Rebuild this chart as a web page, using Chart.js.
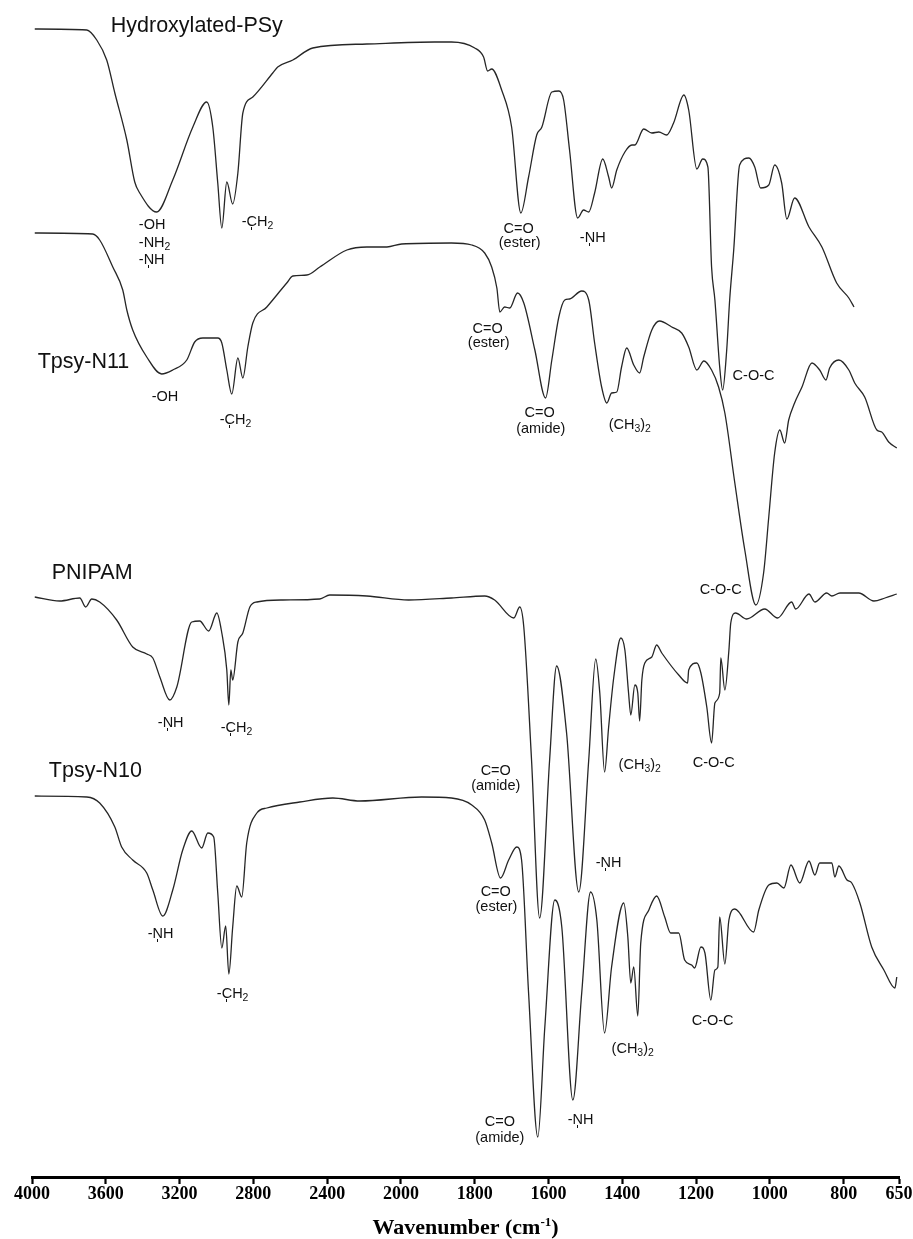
<!DOCTYPE html>
<html>
<head>
<meta charset="utf-8">
<title>FTIR spectra</title>
<script src="https://cdn.jsdelivr.net/npm/chart.js@4.4.1/dist/chart.umd.min.js"></script>
<style>
  html, body { margin: 0; padding: 0; background: #fff; }
  #wrap { width: 913px; height: 1239px; }
</style>
</head>
<body>
<div id="wrap"><canvas id="ftir" width="913" height="1239"></canvas></div>
<script>
// Wavenumber axis: above 2000 cm-1 the scale is compressed 2:1
const BREAK_WN = 2000;
const TICK_WN = [4000, 3600, 3200, 2800, 2400, 2000, 1800, 1600, 1400, 1200, 1000, 800, 650];

// Spectra: wavenumber (cm-1) and stacked transmittance (a.u.)
const hydroxylatedPSyWn = [3985,3703,3649,3595,3551,3486,3443,3416,3324,3237,3128,3053,3020,2993,2971,2944,2912,2884,2857,2803,2695,2668,2586,2478,2185,1909,1863,1800,1776,1765,1754,1727,1700,1675,1654,1632,1618,1591,1572,1559,1543,1521,1505,1491,1475,1453,1437,1429,1415,1393,1374,1366,1342,1320,1301,1280,1261,1233,1220,1198,1182,1168,1158,1149,1136,1128,1117,1109,1098,1082,1057,1041,1025,1003,987,968,954,933,894,859,819,786,772];
const hydroxylatedPSyT  = [1148,1147,1137,1117,1084,1037,995,984,965,997,1050,1075,1050,994,949,995,973,1004,1064,1080,1104,1110,1117,1129,1133,1135,1135,1129,1120,1106,1108,1087,1050,964,1000,1042,1050,1085,1086,1077,1027,959,967,965,984,1018,1000,989,1007,1025,1032,1032,1048,1044,1045,1042,1054,1082,1067,1008,1018,1010,910,877,810,787,827,877,927,1012,1019,1010,989,992,1012,994,958,979,950,930,894,879,870];

const tpsyN11Wn = [3985,3671,3633,3562,3508,3486,3454,3378,3297,3237,3161,3118,3074,2993,2971,2944,2917,2884,2857,2830,2803,2727,2619,2586,2510,2440,2293,2185,2076,1998,1863,1808,1773,1754,1740,1732,1719,1705,1684,1667,1637,1608,1591,1572,1556,1543,1510,1491,1475,1456,1442,1429,1415,1402,1388,1369,1353,1342,1320,1299,1266,1239,1220,1198,1179,1158,1139,1122,1095,1068,1038,1017,1003,987,973,960,949,933,913,886,865,848,838,813,786,770,743,710,697,678,656];
const tpsyN11T  = [944,943,937,910,887,867,847,820,803,807,817,835,839,839,834,807,783,819,799,830,854,870,894,901,902,910,927,930,930,933,934,932,924,910,889,865,870,869,884,874,827,779,817,860,877,878,886,877,834,790,774,784,785,810,829,812,804,820,847,856,850,844,830,807,816,807,790,764,694,627,572,604,660,724,747,734,757,774,790,814,807,797,809,817,807,794,780,747,745,735,729];

const pnipamWn = [3985,3850,3741,3709,3676,3633,3541,3454,3378,3345,3307,3253,3215,3134,3091,3042,2998,2971,2944,2933,2922,2912,2884,2857,2819,2781,2640,2440,2386,2185,1979,1863,1773,1746,1694,1678,1667,1646,1624,1597,1578,1551,1518,1491,1472,1461,1448,1437,1423,1404,1393,1383,1377,1366,1358,1353,1347,1339,1320,1307,1293,1247,1223,1220,1198,1187,1171,1158,1149,1136,1133,1122,1111,1106,1093,1063,1014,979,941,930,894,878,846,832,810,759,718,688,656];
const pnipamT  = [580,576,579,570,578,575,557,530,523,519,500,477,490,555,556,546,564,544,507,472,507,497,535,544,570,575,577,578,582,581,577,579,581,577,559,570,550,417,259,417,511,444,285,417,518,484,405,450,500,539,527,484,462,492,484,456,497,514,520,532,524,502,494,507,514,504,470,434,474,484,519,487,527,554,564,558,568,559,575,568,583,575,584,581,584,584,576,579,583];

const tpsyN10Wn = [3985,3703,3633,3551,3514,3454,3378,3345,3291,3237,3183,3134,3080,3047,3015,2993,2971,2950,2933,2912,2890,2863,2836,2781,2727,2548,2369,2223,1944,1863,1808,1773,1754,1730,1708,1686,1673,1654,1629,1610,1583,1564,1534,1510,1486,1469,1448,1429,1396,1385,1377,1369,1358,1350,1328,1307,1285,1269,1247,1231,1212,1204,1187,1176,1160,1149,1141,1136,1122,1111,1095,1044,1030,1003,981,962,943,919,894,878,865,832,824,813,791,778,756,724,691,661,656];
const tpsyN10T  = [381,380,374,350,330,317,304,287,261,287,327,346,329,344,340,284,229,251,203,250,291,280,334,364,369,375,379,376,380,379,372,357,334,299,317,330,317,184,40,150,277,250,77,184,285,257,144,210,274,240,194,210,161,234,267,281,260,244,244,217,212,209,230,224,177,207,210,260,213,257,268,245,267,292,294,289,312,294,316,302,314,314,300,311,297,294,274,230,207,189,200];

const SERIES = [
  { name: 'Hydroxylated-PSy', wn: hydroxylatedPSyWn, t: hydroxylatedPSyT },
  { name: 'Tpsy-N11',         wn: tpsyN11Wn,         t: tpsyN11T },
  { name: 'PNIPAM',           wn: pnipamWn,          t: pnipamT },
  { name: 'Tpsy-N10',         wn: tpsyN10Wn,         t: tpsyN10T }
];

// Sample names, placed in axis units (wavenumber, transmittance)
const SAMPLE_NAMES = [
  { text: 'Hydroxylated-PSy', wn: 3573, t: 1145 },
  { text: 'Tpsy-N11',         wn: 3969, t: 809 },
  { text: 'PNIPAM',           wn: 3893, t: 598 },
  { text: 'Tpsy-N10',         wn: 3909, t: 400 }
];

// Band assignments. "_x" = subscript, U+0329 = small mark under the previous letter
const BAND_LABELS = [
  // Hydroxylated-PSy
  { text: '-OH',          wn: 3421, t: 948, align: 'left' },
  { text: '-NH_2',        wn: 3421, t: 930, align: 'left' },
  { text: '-N\u0329H',    wn: 3421, t: 913, align: 'left' },
  { text: '-C\u0329H_2',  wn: 2863, t: 951, align: 'left' },
  { text: 'C=O',          wn: 1681, t: 944, align: 'center' },
  { text: '(ester)',      wn: 1678, t: 930, align: 'center' },
  { text: '-N\u0329H',    wn: 1515, t: 935, align: 'left' },
  { text: 'C-O-C',        wn: 1101, t: 797, align: 'left' },
  // Tpsy-N11
  { text: 'C=O',          wn: 1765, t: 844, align: 'center' },
  { text: '(ester)',      wn: 1762, t: 830, align: 'center' },
  { text: '-OH',          wn: 3351, t: 776, align: 'left' },
  { text: '-C\u0329H_2',  wn: 2982, t: 753, align: 'left' },
  { text: 'C=O',          wn: 1624, t: 760, align: 'center' },
  { text: '(amide)',      wn: 1621, t: 744, align: 'center' },
  { text: '(CH_3)_2',     wn: 1437, t: 748, align: 'left' },
  { text: 'C-O-C',        wn: 1190, t: 583, align: 'left' },
  // PNIPAM
  { text: '-N\u0329H',    wn: 3318, t: 450, align: 'left' },
  { text: '-C\u0329H_2',  wn: 2977, t: 445, align: 'left' },
  { text: 'C=O',          wn: 1743, t: 402, align: 'center' },
  { text: '(amide)',      wn: 1743, t: 387, align: 'center' },
  { text: '(CH_3)_2',     wn: 1410, t: 408, align: 'left' },
  { text: 'C-O-C',        wn: 1209, t: 410, align: 'left' },
  { text: '-N\u0329H',    wn: 1472, t: 310, align: 'left' },
  // Tpsy-N10
  { text: '-N\u0329H',    wn: 3373, t: 239, align: 'left' },
  { text: '-C\u0329H_2',  wn: 2998, t: 179, align: 'left' },
  { text: 'C=O',          wn: 1743, t: 281, align: 'center' },
  { text: '(ester)',      wn: 1741, t: 266, align: 'center' },
  { text: 'C=O',          wn: 1732, t: 51,  align: 'center' },
  { text: '(amide)',      wn: 1732, t: 35,  align: 'center' },
  { text: '-N\u0329H',    wn: 1548, t: 53,  align: 'left' },
  { text: '(CH_3)_2',     wn: 1429, t: 124, align: 'left' },
  { text: 'C-O-C',        wn: 1212, t: 152, align: 'left' }
];

// Linear scale with a 2:1 compression above BREAK_WN, high wavenumbers on the left
class SplitWavenumberScale extends Chart.LinearScale {
  compress(v) { return v > BREAK_WN ? BREAK_WN + (v - BREAK_WN) / 2 : v; }
  expand(u) { return u > BREAK_WN ? BREAK_WN + (u - BREAK_WN) * 2 : u; }
  buildTicks() {
    return TICK_WN.filter(v => v >= this.min && v <= this.max).map(v => ({ value: v }));
  }
  getPixelForValue(v) {
    const hi = this.compress(this.max), lo = this.compress(this.min);
    return this.left + (hi - this.compress(v)) / (hi - lo) * this.width;
  }
  getValueForPixel(p) {
    const hi = this.compress(this.max), lo = this.compress(this.min);
    return this.expand(hi - (p - this.left) / this.width * (hi - lo));
  }
}
SplitWavenumberScale.id = 'splitWavenumber';
SplitWavenumberScale.defaults = Chart.LinearScale.defaults;
Chart.register(SplitWavenumberScale);

const SANS = '"Liberation Sans", Arial, sans-serif';
const SERIF = '"Liberation Serif", "Times New Roman", serif';

function parseRich(text) {
  const out = [];
  for (let i = 0; i < text.length; i++) {
    const ch = text[i];
    if (ch === '_' && i + 1 < text.length) { out.push({ ch: text[++i], sub: true }); continue; }
    if (ch === '\u0329') { if (out.length) out[out.length - 1].mark = true; continue; }
    out.push({ ch, sub: false });
  }
  return out;
}

function drawRich(ctx, text, x, y, size, align) {
  const glyphs = parseRich(text);
  const subSize = size * 0.72;
  let total = 0;
  glyphs.forEach(g => {
    ctx.font = `${g.sub ? subSize : size}px ${SANS}`;
    g.w = ctx.measureText(g.ch).width;
    total += g.w;
  });
  let cx = align === 'center' ? x - total / 2 : x;
  glyphs.forEach(g => {
    ctx.font = `${g.sub ? subSize : size}px ${SANS}`;
    ctx.fillText(g.ch, cx, g.sub ? y + size * 0.22 : y);
    if (g.mark) {
      ctx.fillRect(Math.round(cx + g.w / 2 - 0.5), y + 1, 1, 3);
    }
    cx += g.w;
  });
}

const labelPlugin = {
  id: 'ftirLabels',
  afterDraw(chart) {
    const { ctx, scales: { x, y }, chartArea } = chart;
    ctx.save();
    ctx.fillStyle = '#111';
    ctx.textBaseline = 'alphabetic';
    ctx.textAlign = 'left';
    SAMPLE_NAMES.forEach(n => {
      ctx.font = `21.5px ${SANS}`;
      ctx.fillText(n.text, x.getPixelForValue(n.wn), y.getPixelForValue(n.t));
    });
    BAND_LABELS.forEach(l => {
      drawRich(ctx, l.text, x.getPixelForValue(l.wn), y.getPixelForValue(l.t), 14.5, l.align);
    });

    // Axis title with superscript
    ctx.fillStyle = '#000';
    const main = 'Wavenumber (cm', sup = '-1', close = ')';
    const bigFont = `bold 22px ${SERIF}`, supFont = `bold 13px ${SERIF}`;
    ctx.font = bigFont; const w1 = ctx.measureText(main).width, w3 = ctx.measureText(close).width;
    ctx.font = supFont; const w2 = ctx.measureText(sup).width;
    const cx = (chartArea.left + chartArea.right) / 2;
    const base = chartArea.bottom + 57;
    let px = cx - (w1 + w2 + w3) / 2;
    ctx.font = bigFont; ctx.fillText(main, px, base); px += w1;
    ctx.font = supFont; ctx.fillText(sup, px, base - 8); px += w2;
    ctx.font = bigFont; ctx.fillText(close, px, base);
    ctx.restore();
  }
};

new Chart(document.getElementById('ftir'), {
  type: 'line',
  data: {
    datasets: SERIES.map(s => ({
      label: s.name,
      data: s.wn.map((w, i) => ({ x: w, y: s.t[i] })),
      borderColor: '#262626',
      borderWidth: 1.3,
      pointRadius: 0,
      fill: false,
      cubicInterpolationMode: 'monotone'
    }))
  },
  options: {
    responsive: false,
    devicePixelRatio: 1,
    animation: false,
    layout: { padding: { left: 32, right: 14, top: 0, bottom: 0 } },
    plugins: { legend: { display: false }, tooltip: { enabled: false } },
    scales: {
      x: {
        type: 'splitWavenumber',
        position: 'bottom',
        min: 650,
        max: 4000,
        afterFit(scale) { scale.height = 62; },
        border: { display: true, color: '#000', width: 3 },
        grid: { display: true, drawOnChartArea: false, drawTicks: true, tickLength: 7, tickWidth: 2.2, tickColor: '#000' },
        ticks: {
          autoSkip: false,
          maxRotation: 0,
          padding: 0,
          color: '#000',
          font: { family: SERIF, weight: 'bold', size: 18 },
          callback: v => String(v)
        }
      },
      y: { display: false, min: 0, max: 1177 }
    }
  },
  plugins: [labelPlugin]
});
</script>
</body>
</html>
